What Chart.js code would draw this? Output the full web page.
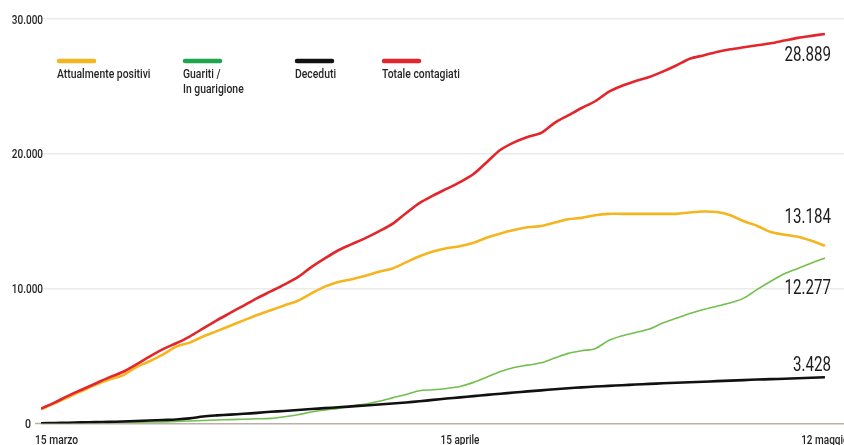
<!DOCTYPE html>
<html>
<head>
<meta charset="utf-8">
<script src="https://cdn.jsdelivr.net/npm/chart.js@4.4.0/dist/chart.umd.min.js"></script>
<style>
  html, body { margin: 0; padding: 0; background: #fff; }
</style>
</head>
<body>
<canvas id="chart" width="844" height="445"></canvas>
<script>
// days from 15 marzo (0) to 12 maggio (58)
const tickDays = [0, 31, 58];
const tickLabels = ['15 marzo', '15 aprile', '12 maggio'];

const seriesNames = ['Attualmente positivi', 'Guariti /\nIn guarigione', 'Deceduti', 'Totale contagiati'];

const positivi = [1050, 1500, 1950, 2400, 2850, 3250, 3550, 4150, 4600, 5100,
  5700, 6000, 6450, 6850, 7250, 7650, 8050, 8400, 8750, 9100,
  9650, 10150, 10500, 10700, 10950, 11250, 11500, 11950, 12400, 12750,
  13000, 13150, 13400, 13800, 14100, 14350, 14550, 14650, 14900, 15150,
  15250, 15450, 15550, 15550, 15550, 15550, 15550, 15550, 15650, 15720,
  15680, 15450, 15000, 14650, 14200, 14000, 13850, 13550, 13184];

const guariti = [30, 40, 50, 60, 70, 80, 90, 100, 110, 120,
  150, 180, 220, 260, 290, 320, 350, 380, 500, 650,
  850, 1000, 1120, 1300, 1450, 1650, 1900, 2150, 2430, 2500,
  2600, 2750, 3050, 3450, 3850, 4150, 4330, 4500, 4850, 5200,
  5400, 5550, 6150, 6500, 6750, 7000, 7450, 7800, 8150, 8450,
  8700, 8950, 9300, 9950, 10550, 11100, 11500, 11900, 12277];

const deceduti = [20, 40, 60, 80, 100, 120, 150, 180, 220, 260,
  300, 380, 520, 600, 660, 720, 790, 870, 930, 1000,
  1070, 1140, 1200, 1270, 1340, 1410, 1480, 1560, 1650, 1750,
  1850, 1940, 2030, 2120, 2210, 2300, 2380, 2460, 2540, 2620,
  2680, 2740, 2790, 2840, 2890, 2940, 2980, 3020, 3060, 3100,
  3140, 3180, 3220, 3260, 3290, 3320, 3360, 3390, 3428];

const totale = [1100, 1550, 2050, 2500, 2950, 3400, 3800, 4350, 4950, 5500,
  5950, 6450, 7050, 7650, 8200, 8750, 9300, 9800, 10300, 10850,
  11600, 12250, 12850, 13300, 13750, 14250, 14800, 15600, 16350, 16900,
  17400, 17900, 18500, 19400, 20300, 20850, 21250, 21550, 22300, 22850,
  23400, 23900, 24600, 25050, 25400, 25700, 26100, 26550, 27050, 27300,
  27550, 27750, 27900, 28050, 28200, 28400, 28600, 28750, 28889];

// no condensed face installed, so text is squeezed horizontally by hand
const FONT = 'Roboto, "Noto Sans", sans-serif';

const lineColors = ['#f4b51f', '#72bf4f', '#111111', '#e2262b'];
const legendColors = ['#f4b51f', '#1fa54b', '#111111', '#e2262b'];
const legendX = [57, 183, 295, 382];
const endLabelOffset = [-30, 29, -14, 20];

function fmt(v) {
  return String(v).replace(/\B(?=(\d{3})+(?!\d))/g, '.');
}

// draw text squeezed by factor sx, anchored at x with the given align
function narrowText(ctx, text, x, y, size, align, sx, weight) {
  ctx.save();
  ctx.font = (weight || 500) + ' ' + size + 'px ' + FONT;
  ctx.textBaseline = 'alphabetic';
  ctx.textAlign = 'left';
  const w = ctx.measureText(text).width * sx;
  let left = x;
  if (align === 'right') left = x - w;
  if (align === 'center') left = x - w / 2;
  ctx.translate(left, y);
  ctx.scale(sx, 1);
  ctx.fillText(text, 0, 0);
  ctx.restore();
}

const toPoints = arr => arr.map((v, i) => ({ x: i, y: v }));
const allSeries = [positivi, guariti, deceduti, totale];

const datasets = allSeries.map((arr, i) => ({
  label: seriesNames[i],
  data: toPoints(arr),
  borderColor: lineColors[i],
  borderWidth: i === 1 ? 1.6 : 2.6,
  pointRadius: 0,
  tension: 0.3,
  fill: false,
  order: [2, 3, 1, 0][i]
}));

const axisLabels = {
  id: 'axisLabels',
  afterDraw(chart) {
    const ctx = chart.ctx;
    const x = chart.scales.x, y = chart.scales.y;
    ctx.save();
    ctx.fillStyle = '#262626';
    y.ticks.forEach(t => {
      const py = y.getPixelForValue(t.value);
      if (t.value === 0) {
        narrowText(ctx, '0', 31, py + 4.5, 12.5, 'right', 0.85);
        ctx.strokeStyle = '#b9b0a8';
        ctx.lineWidth = 1.5;
        ctx.beginPath();
        ctx.moveTo(35, py);
        ctx.lineTo(41, py);
        ctx.stroke();
      } else {
        narrowText(ctx, fmt(t.value), 43, py + 4.5, 12.5, 'right', 0.8);
      }
    });
    tickDays.forEach((d, i) => {
      const px = x.getPixelForValue(d);
      if (i === 0) narrowText(ctx, tickLabels[i], px - 6, 444, 12.5, 'left', 0.82);
      else narrowText(ctx, tickLabels[i], px, 444, 12.5, 'center', 0.8);
    });
    ctx.restore();
  }
};

const legendPlugin = {
  id: 'customLegend',
  afterDraw(chart) {
    const ctx = chart.ctx;
    ctx.save();
    chart.data.datasets.forEach((ds, i) => {
      const x = legendX[i];
      ctx.strokeStyle = legendColors[i];
      ctx.lineWidth = 4.5;
      ctx.lineCap = 'round';
      ctx.beginPath();
      ctx.moveTo(x + 2, 61);
      ctx.lineTo(x + 37, 61);
      ctx.stroke();
      ctx.fillStyle = '#262626';
      ds.label.split('\n').forEach((line, j) => {
        narrowText(ctx, line, x, 78 + j * 15, 13.5, 'left', 0.77);
      });
    });
    ctx.restore();
  }
};

const endLabelPlugin = {
  id: 'endLabels',
  afterDatasetsDraw(chart) {
    const ctx = chart.ctx;
    ctx.save();
    ctx.fillStyle = '#1c1c1c';
    chart.data.datasets.forEach((ds, i) => {
      const meta = chart.getDatasetMeta(i);
      const last = meta.data[meta.data.length - 1];
      const v = ds.data[ds.data.length - 1].y;
      narrowText(ctx, fmt(v), 831, last.y + endLabelOffset[i] + 7.5, 21, 'right', 0.72, 400);
    });
    ctx.restore();
  }
};

new Chart(document.getElementById('chart'), {
  type: 'line',
  data: { datasets: datasets },
  plugins: [legendPlugin, endLabelPlugin, axisLabels],
  options: {
    responsive: false,
    animation: false,
    layout: { padding: { top: 19, left: 0, right: 0, bottom: 0 } },
    plugins: { legend: { display: false }, tooltip: { enabled: false } },
    scales: {
      x: {
        type: 'linear',
        min: 0,
        max: 59.41,
        afterFit: s => { s.height = 21.5; s.paddingLeft = 0; s.paddingRight = 0; },
        grid: { display: false },
        border: { display: false },
        ticks: { display: false }
      },
      y: {
        min: 0,
        max: 30000,
        afterFit: s => { s.width = 41; s.paddingTop = 0; s.paddingBottom = 0; },
        grid: {
          drawTicks: false,
          color: c => c.tick.value === 0 ? '#b9b0a8' : '#ebebeb',
          lineWidth: 1.5
        },
        border: { display: false },
        ticks: { display: false, stepSize: 10000 }
      }
    }
  }
});
</script>
</body>
</html>
